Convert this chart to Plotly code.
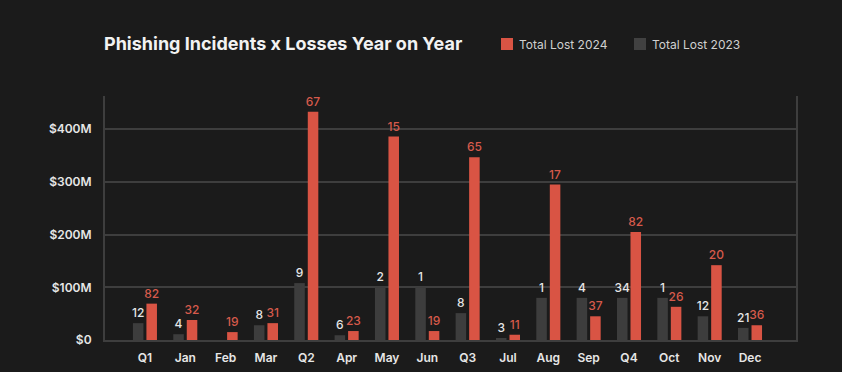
import plotly.graph_objects as go

categories = ["Q1", "Jan", "Feb", "Mar", "Q2", "Apr", "May", "Jun",
              "Q3", "Jul", "Aug", "Sep", "Q4", "Oct", "Nov", "Dec"]
lost_2023 = [32, 11, 0, 28, 108, 9, 100, 100, 51, 3, 80, 80, 80, 80, 45, 23]
lost_2024 = [69, 38, 15, 32, 433, 17, 386, 17, 347, 10, 295, 45, 205, 63, 142, 28]
incidents_2023 = ["12", "4", "", "8", "9", "6", "2", "1", "8", "3", "1", "4", "34", "1", "12", "21"]
incidents_2024 = ["82", "32", "19", "31", "67", "23", "15", "19", "65", "11", "17", "37", "82", "26", "20", "36"]
series_names = ["Total Lost 2024", "Total Lost 2023"]
y_ticks = [0, 100, 200, 300, 400]
y_tick_labels = ["$0", "$100M", "$200M", "$300M", "$400M"]

W, H = 842, 372
ML, MR, MT, MB = 105, 46, 96, 32
PW, PH = W - ML - MR, H - MT - MB

BG = "#1b1b1b"
RED = "#d95444"
RED_TXT = "#d65a4b"
GRAY = "#3d3d3d"
LINE = "#3e3e3e"
TXT = "#e6e6e6"


def px_x(v):
    return (v - ML) / PW


def px_y(v):
    return (H - MB - v) / PH


fig = go.Figure()
fig.add_trace(go.Bar(
    name=series_names[1], x=categories, y=lost_2023,
    marker=dict(color=GRAY, line=dict(width=0)),
    text=incidents_2023, textposition="outside", cliponaxis=False,
    constraintext="none",
    textfont=dict(family="Inter", size=12, color=TXT, weight=500),
))
fig.add_trace(go.Bar(
    name=series_names[0], x=categories, y=lost_2024,
    marker=dict(color=RED, line=dict(width=0)),
    text=incidents_2024, textposition="outside", cliponaxis=False,
    constraintext="none",
    textfont=dict(family="Inter", size=12, color=RED_TXT, weight=500),
))

# manual legend (swatch + label) placed above the plot
legend_items = [(series_names[0], RED, 501), (series_names[1], "#414141", 634)]
shapes = []
annotations = []
for name, col, x0 in legend_items:
    shapes.append(dict(
        type="rect", xref="paper", yref="paper",
        x0=px_x(x0), x1=px_x(x0 + 12), y0=px_y(50), y1=px_y(38),
        fillcolor=col, line=dict(width=0), layer="above",
    ))
    annotations.append(dict(
        text=name, xref="paper", yref="paper",
        x=px_x(x0 + 16), y=px_y(44), xanchor="left", yanchor="middle",
        showarrow=False,
        font=dict(family="Inter", size=12, color="#d0d0d0"),
    ))

fig.update_layout(
    width=W, height=H,
    margin=dict(l=ML, r=MR, t=MT, b=MB, autoexpand=False),
    paper_bgcolor=BG, plot_bgcolor=BG,
    barmode="group", bargap=0.33, bargroupgap=0.22,
    font=dict(family="Inter", color=TXT),
    title=dict(
        text="Phishing Incidents x Losses Year on Year",
        font=dict(family="Inter", size=18, color="#f2f2f2", weight=700),
        x=104 / W, xanchor="left", xref="container",
        y=1 - 44 / H, yanchor="middle", yref="container",
    ),
    showlegend=False,
    shapes=shapes,
    annotations=annotations,
    xaxis=dict(
        range=[-0.99, 16.14], automargin=False,
        showgrid=False, zeroline=False,
        showline=True, linecolor=LINE, linewidth=2,
        ticks="", ticklabelstandoff=6,
        tickfont=dict(family="Inter", size=12, color=TXT, weight=600),
    ),
    yaxis=dict(
        range=[0, 463], automargin=False,
        tickvals=y_ticks, ticktext=y_tick_labels,
        showgrid=True, gridcolor=LINE, gridwidth=2,
        zeroline=False,
        showline=True, mirror=True, linecolor=LINE, linewidth=2,
        ticks="", ticklabelstandoff=9,
        tickfont=dict(family="Inter", size=12, color=TXT, weight=600),
    ),
)

fig.write_html(
    "out.html",
    config={"displayModeBar": False},
    post_script="document.body.style.margin='0';document.body.style.background='%s';" % BG,
)
